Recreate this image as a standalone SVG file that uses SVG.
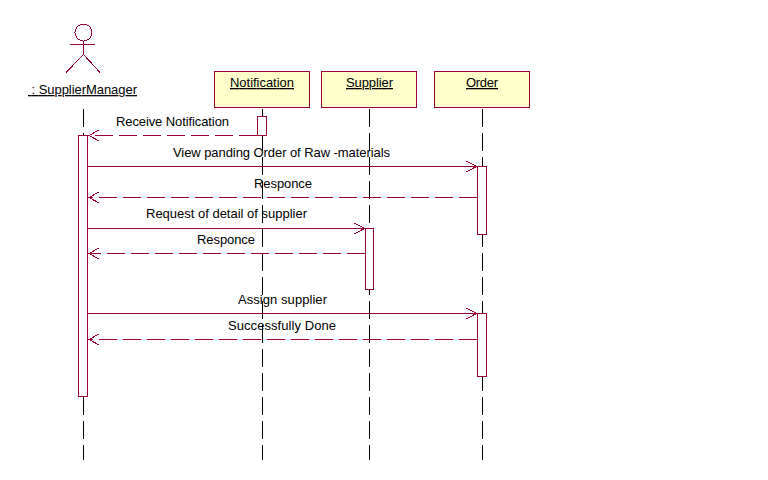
<svg xmlns="http://www.w3.org/2000/svg" width="768" height="480" viewBox="0 0 768 480">
<style>
text{font-family:"Liberation Sans",Arial,sans-serif;font-size:13px;fill:#000}
.u{text-decoration:underline}
.box{fill:#ffffcc;stroke:#990033;stroke-width:1}
.act{fill:#fff;stroke:#990033;stroke-width:1}
.life{stroke:#000;stroke-width:1;stroke-dasharray:18 6;fill:none}
.msg{stroke:#990033;stroke-width:1;fill:none}
.ret{stroke:#990033;stroke-width:1;fill:none;stroke-dasharray:18 6}
.head{stroke:#990033;stroke-width:1;fill:none}
path,rect,circle{shape-rendering:crispEdges}
</style>
<rect width="768" height="480" fill="#fff"/>
<g id="lifelines">
<path class="life" d="M83.5 109V460"/>
<path class="life" d="M262.5 109V460"/>
<path class="life" d="M369.5 109V460"/>
<path class="life" d="M482.5 109V460"/>
</g>
<g id="actor-suppliermanager">
<circle class="msg" cx="83.5" cy="32.5" r="8.5"/>
<path class="msg" d="M70 44.5H95M83.5 41V54.5L66 72.5M83.5 54.5L100 72.5"/>
<text class="u" x="28" y="94" textLength="109" lengthAdjust="spacing" xml:space="preserve"> : SupplierManager</text>
</g>
<g id="node-notification">
<rect class="box" x="214.5" y="71.5" width="95" height="36"/>
<text class="u" x="230" y="87" textLength="64" lengthAdjust="spacing">Notification</text>
</g>
<g id="node-supplier">
<rect class="box" x="321.5" y="71.5" width="95" height="36"/>
<text class="u" x="346" y="87" textLength="47" lengthAdjust="spacing">Supplier</text>
</g>
<g id="node-order">
<rect class="box" x="434.5" y="71.5" width="95" height="36"/>
<text class="u" x="466" y="87" textLength="32" lengthAdjust="spacing">Order</text>
</g>
<g id="activations">
<rect class="act" x="78.5" y="135.5" width="9" height="261"/>
<rect class="act" x="257.5" y="116.5" width="9" height="19"/>
<rect class="act" x="477.5" y="166.5" width="9" height="68"/>
<rect class="act" x="365.5" y="228.5" width="8" height="61"/>
<rect class="act" x="477.5" y="313.5" width="9" height="63"/>
</g>
<g id="connectors">
<path class="ret" d="M257 135.5H88"/><path class="head" d="M99 130L89 135.5L99 141"/>
<path class="msg" d="M88 166.5H477"/><path class="head" d="M466 161L476.5 166.5L466 172"/>
<path class="ret" d="M477 197.5H88"/><path class="head" d="M99 192L89 197.5L99 203"/>
<path class="msg" d="M88 228.5H365"/><path class="head" d="M354 223L364.5 228.5L354 234"/>
<path class="ret" d="M365 253.5H88"/><path class="head" d="M99 248L89 253.5L99 259"/>
<path class="msg" d="M88 313.5H477"/><path class="head" d="M466 308L476.5 313.5L466 319"/>
<path class="ret" d="M477 339.5H88"/><path class="head" d="M99 334L89 339.5L99 345"/>
</g>
<g id="labels">
<text x="116" y="126" textLength="113" lengthAdjust="spacing">Receive Notification</text>
<text x="173" y="157" textLength="217" lengthAdjust="spacing">View panding Order of Raw -materials</text>
<text x="254" y="188" textLength="58" lengthAdjust="spacing">Responce</text>
<text x="146" y="218" textLength="161" lengthAdjust="spacing">Request of detail of supplier</text>
<text x="197" y="244" textLength="58" lengthAdjust="spacing">Responce</text>
<text x="238" y="304" textLength="89" lengthAdjust="spacing">Assign supplier</text>
<text x="228" y="330" textLength="108" lengthAdjust="spacing">Successfully Done</text>
</g>
</svg>
